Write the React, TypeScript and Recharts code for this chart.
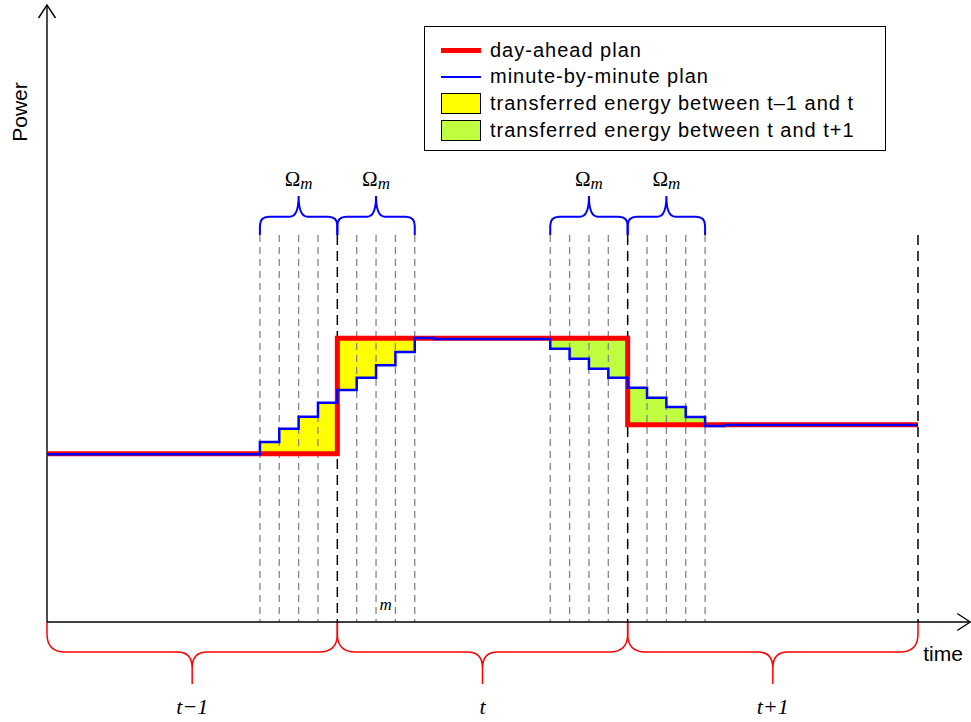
import React from 'react';
import {
  Area,
  ComposedChart,
  Legend,
  Line,
  ReferenceArea,
  ReferenceDot,
  ReferenceLine,
  XAxis,
  YAxis,
} from 'recharts';

// minute index inside the three dispatch periods (15 minutes each)
const minutes = [
  0, 1, 2, 3, 4, 5, 6, 7, 8, 9, 10, 11, 12, 13, 14, 15, 16, 17, 18, 19, 20, 21, 22,
  23, 24, 25, 26, 27, 28, 29, 30, 31, 32, 33, 34, 35, 36, 37, 38, 39, 40, 41, 42, 43,
  44, 45,
];

const dayAheadPlan = [
  168.2, 168.2, 168.2, 168.2, 168.2, 168.2, 168.2, 168.2, 168.2, 168.2, 168.2, 168.2,
  168.2, 168.2, 168.2, 283.8, 283.8, 283.8, 283.8, 283.8, 283.8, 283.8, 283.8, 283.8,
  283.8, 283.8, 283.8, 283.8, 283.8, 283.8, 197.3, 197.3, 197.3, 197.3, 197.3, 197.3,
  197.3, 197.3, 197.3, 197.3, 197.3, 197.3, 197.3, 197.3, 197.3, 197.3,
];

const minutePlan = [
  167.8, 167.8, 167.8, 167.8, 167.8, 167.8, 167.8, 167.8, 167.8, 167.8, 167.8, 180,
  193.3, 205.3, 219.3, 232, 244.3, 256.7, 270, 284, 283, 283, 283, 283, 283, 283,
  273.3, 263.3, 253.3, 244.3, 234.3, 224.3, 215, 205, 196, 197, 197, 197, 197, 197,
  197, 197, 197, 197, 197, 197,
];

const firstTransfer = [11, 19];
const secondTransfer = [26, 34];

const greyMinutes = [11, 12, 13, 14, 16, 17, 18, 19, 26, 27, 28, 29, 31, 32, 33, 34];
const boundaryMinutes = [15, 30, 45];
const omegaWindows = [
  [11, 15],
  [15, 19],
  [26, 30],
  [30, 34],
];
const periods = [
  { label: 't\u22121', from: 0, to: 15 },
  { label: 't', from: 15, to: 30 },
  { label: 't+1', from: 30, to: 45 },
];

const legendItems = [
  { name: 'day-ahead plan', kind: 'line', color: '#ff0000', width: 5 },
  { name: 'minute-by-minute plan', kind: 'line', color: '#0000ff', width: 2 },
  { name: 'transferred energy between t\u20131 and t', kind: 'box', color: '#ffff00' },
  { name: 'transferred energy between t and t+1', kind: 'box', color: '#bfff3f' },
];

const band = (i: number, win: number[]) =>
  minutes[i] >= win[0] && minutes[i] <= win[1]
    ? [Math.min(dayAheadPlan[i], minutePlan[i]), Math.max(dayAheadPlan[i], minutePlan[i])]
    : null;

const data = minutes.map((m, i) => ({
  minute: m,
  dayAhead: dayAheadPlan[i],
  minute15: minutePlan[i],
  first: band(i, firstTransfer),
  second: band(i, secondTransfer),
}));

const SANS = "'Liberation Sans', Arial, sans-serif";
const SERIF = "'Liberation Serif', 'Times New Roman', serif";

const axisShape = (label: string, vertical: boolean) => (props: any) => {
  const { x1, y1, x2, y2 } = props;
  const len = Math.hypot(x2 - x1, y2 - y1) || 1;
  const ux = (x2 - x1) / len;
  const uy = (y2 - y1) / len;
  const hx = x2 - ux * 13;
  const hy = y2 - uy * 13;
  const px = -uy * 8.5;
  const py = ux * 8.5;
  return (
    <g>
      <line x1={x1} y1={y1} x2={x2} y2={y2} stroke="#000" strokeWidth={1.4} />
      <polyline
        points={`${hx + px},${hy + py} ${x2},${y2} ${hx - px},${hy - py}`}
        fill="none"
        stroke="#000"
        strokeWidth={1.4}
      />
      {vertical ? (
        <text
          x={x1 - 28}
          y={y2 + 107}
          transform={`rotate(-90 ${x1 - 28} ${y2 + 107})`}
          textAnchor="middle"
          dominantBaseline="central"
          fontFamily={SANS}
          fontSize={21}
        >
          {label}
        </text>
      ) : (
        <text x={x2 - 47} y={y1 + 39} fontFamily={SANS} fontSize={21}>
          {label}
        </text>
      )}
    </g>
  );
};

const omegaBrace = (props: any) => {
  const { x, y, width, height } = props;
  const x1 = x;
  const x2 = x + width;
  const xm = x + width / 2;
  const yEnd = y + height;
  const yMid = yEnd - 18.3;
  const d =
    `M${x1},${yEnd} L${x1},${yMid + 9} Q${x1},${yMid} ${x1 + 9},${yMid} L${xm - 9},${yMid} ` +
    `Q${xm},${yMid} ${xm},${y} Q${xm},${yMid} ${xm + 9},${yMid} L${x2 - 9},${yMid} ` +
    `Q${x2},${yMid} ${x2},${yMid + 9} L${x2},${yEnd}`;
  return (
    <g>
      <path d={d} fill="none" stroke="#0000ff" strokeWidth={2} />
      <text x={xm} y={y - 10} textAnchor="middle" fontFamily={SERIF} fontSize={21}>
        <tspan>Ω</tspan>
        <tspan fontStyle="italic" fontSize={17} dy={3}>
          m
        </tspan>
      </text>
    </g>
  );
};

const periodBrace = (label: string) => (props: any) => {
  const { x, y, width, height } = props;
  const x1 = x;
  const x2 = x + width;
  const xm = x + width / 2;
  const yMid = y + 30;
  const yTip = y + height;
  const d =
    `M${x1},${y} L${x1},${yMid - 18} Q${x1},${yMid} ${x1 + 18},${yMid} L${xm - 15},${yMid} ` +
    `Q${xm},${yMid} ${xm},${yMid + 16} L${xm},${yTip} M${xm},${yMid + 16} ` +
    `Q${xm},${yMid} ${xm + 15},${yMid} L${x2 - 18},${yMid} Q${x2},${yMid} ${x2},${yMid - 18} L${x2},${y}`;
  return (
    <g>
      <path d={d} fill="none" stroke="#ff0000" strokeWidth={1.5} />
      <text
        x={xm}
        y={yTip + 30}
        textAnchor="middle"
        fontFamily={SERIF}
        fontStyle="italic"
        fontSize={22}
      >
        {label}
      </text>
    </g>
  );
};

const LegendBox = () => (
  <div
    style={{
      width: 460,
      height: 123,
      border: '1px solid #000',
      background: '#fff',
      position: 'relative',
      fontFamily: SANS,
      fontSize: 20,
      letterSpacing: 1,
      color: '#000',
    }}
  >
    {legendItems.map((item, i) => (
      <div
        key={item.name}
        style={{
          position: 'absolute',
          left: 0,
          top: 10 + i * 26.7,
          height: 26,
          display: 'flex',
          alignItems: 'center',
          whiteSpace: 'nowrap',
        }}
      >
        {item.kind === 'line' ? (
          <span
            style={{
              display: 'inline-block',
              marginLeft: 16,
              width: 40,
              height: item.width,
              background: item.color,
            }}
          />
        ) : (
          <span
            style={{
              display: 'inline-block',
              marginLeft: 16,
              width: 38,
              height: 19,
              background: item.color,
              border: '1px solid #000',
            }}
          />
        )}
        <span style={{ marginLeft: 9 }}>{item.name}</span>
      </div>
    ))}
  </div>
);

export default function App() {
  return (
    <div style={{ position: 'absolute', left: 0, top: 0, width: 971, height: 722, background: '#fff' }}>
      <ComposedChart
        width={971}
        height={722}
        data={data}
        margin={{ top: 22, right: 53, bottom: 100, left: 47 }}
      >
        <XAxis type="number" dataKey="minute" domain={[0, 45]} allowDataOverflow hide />
        <YAxis type="number" domain={[0, 600]} allowDataOverflow hide />
        <Legend
          layout="vertical"
          align="center"
          verticalAlign="middle"
          content={() => <LegendBox />}
          wrapperStyle={{ left: 424, top: 26, width: 462, height: 125 }}
        />
        <Area
          type="stepAfter"
          dataKey="first"
          fill="#ffff00"
          fillOpacity={1}
          stroke="none"
          isAnimationActive={false}
          legendType="none"
        />
        <Area
          type="stepAfter"
          dataKey="second"
          fill="#bfff3f"
          fillOpacity={1}
          stroke="none"
          isAnimationActive={false}
          legendType="none"
        />
        {greyMinutes.map((m) => (
          <ReferenceLine
            key={`g${m}`}
            segment={[
              { x: m, y: 387 },
              { x: m, y: 0 },
            ]}
            stroke="#858585"
            strokeWidth={1.3}
            strokeDasharray="7 5"
          />
        ))}
        {boundaryMinutes.map((m) => (
          <ReferenceLine
            key={`b${m}`}
            segment={[
              { x: m, y: 387 },
              { x: m, y: 0 },
            ]}
            stroke="#000"
            strokeWidth={1.5}
            strokeDasharray="10 6"
          />
        ))}
        {omegaWindows.map((w) => (
          <ReferenceArea
            key={`o${w[0]}`}
            x1={w[0]}
            x2={w[1]}
            y1={387}
            y2={426}
            ifOverflow="visible"
            shape={omegaBrace}
          />
        ))}
        {periods.map((p) => (
          <ReferenceArea
            key={p.label}
            x1={p.from}
            x2={p.to}
            y1={-62}
            y2={0}
            ifOverflow="visible"
            shape={periodBrace(p.label)}
          />
        ))}
        <ReferenceDot
          x={17.5}
          y={17}
          r={0}
          ifOverflow="visible"
          shape={(p: any) => (
            <text
              x={p.cx}
              y={p.cy + 5}
              textAnchor="middle"
              fontFamily={SERIF}
              fontStyle="italic"
              fontSize={17}
            >
              m
            </text>
          )}
        />
        <ReferenceLine
          segment={[
            { x: 0, y: 0 },
            { x: 0, y: 617 },
          ]}
          ifOverflow="visible"
          shape={axisShape('Power', true)}
        />
        <ReferenceLine
          segment={[
            { x: 0, y: 0 },
            { x: 47.7, y: 0 },
          ]}
          ifOverflow="visible"
          shape={axisShape('time', false)}
        />
        <Line
          type="stepAfter"
          dataKey="dayAhead"
          stroke="#ff0000"
          strokeWidth={5}
          strokeLinejoin="miter"
          dot={false}
          activeDot={false}
          isAnimationActive={false}
        />
        <Line
          type="stepAfter"
          dataKey="minute15"
          stroke="#0000ff"
          strokeWidth={2.5}
          strokeLinejoin="miter"
          dot={false}
          activeDot={false}
          isAnimationActive={false}
        />
      </ComposedChart>
    </div>
  );
}
